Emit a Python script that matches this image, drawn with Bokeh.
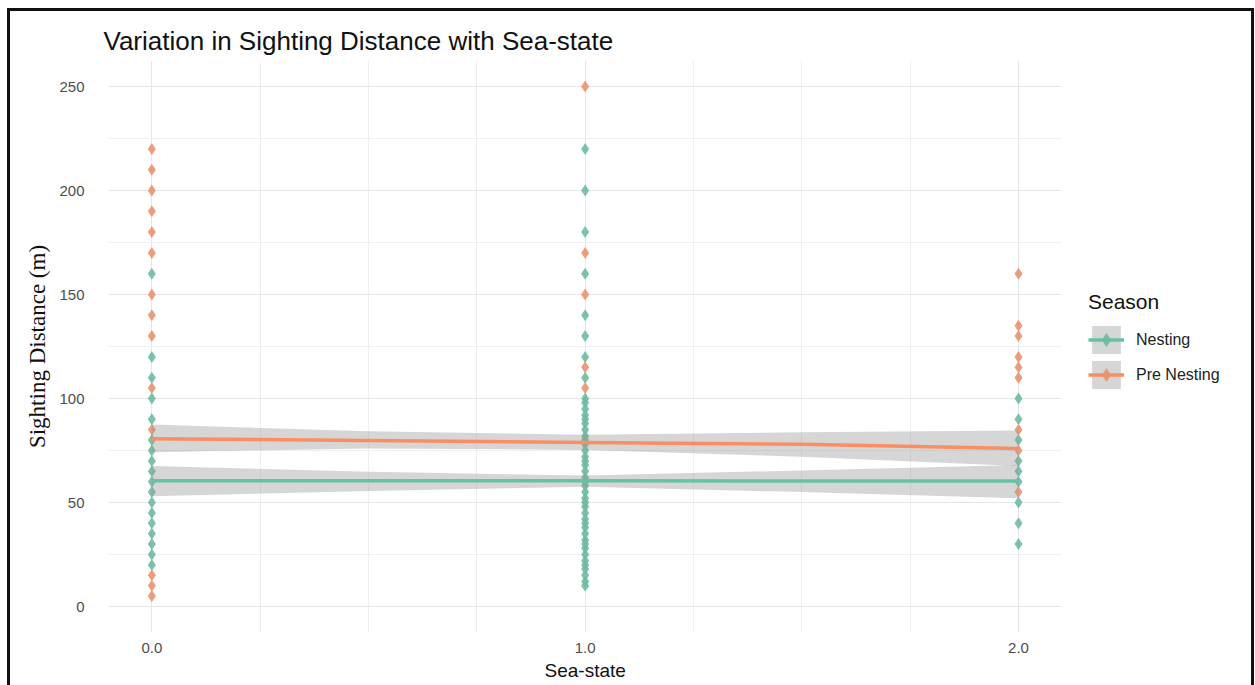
from bokeh.plotting import figure
from bokeh.models import (FixedTicker, SingleIntervalTicker, Legend, LegendItem,
                          ColumnDataSource, InlineStyleSheet, Title)
from bokeh.embed import file_html
from bokeh.resources import INLINE

# ---------------- data ----------------
seasons = ["Nesting", "Pre Nesting"]
colors = ["#66C2A5", "#FC8D62"]

# sighting distances (m) by sea-state
nest_s0 = [160, 120, 110, 100, 90, 80, 75, 70, 65, 60, 55, 50, 45, 40, 35, 30, 25, 20]
nest_s1 = [220, 200, 180, 160, 140, 130, 120, 110, 100, 98, 95, 92, 90, 88, 85, 82, 80,
           78, 75, 72, 70, 68, 65, 62, 60, 58, 55, 52, 50, 48, 45, 42, 40, 38, 35, 32,
           30, 28, 25, 22, 20, 18, 15, 12, 10]
nest_s2 = [100, 90, 80, 70, 65, 60, 50, 40, 30]
pre_s0 = [220, 210, 200, 190, 180, 170, 150, 140, 130, 105, 85, 15, 10, 5]
pre_s1 = [250, 170, 150, 115, 105]
pre_s2 = [160, 135, 130, 120, 115, 110, 85, 75, 55]

# linear fits with confidence band
fit_x = [0.0, 0.5, 1.0, 1.5, 2.0]
nest_fit = [60.5, 60.4, 60.4, 60.3, 60.3]
nest_lo = [53.0, 55.5, 57.6, 55.0, 52.0]
nest_hi = [67.5, 64.8, 63.0, 65.4, 68.0]
pre_fit = [80.7, 79.8, 78.9, 78.0, 76.0]
pre_lo = [74.2, 76.0, 75.3, 72.0, 67.5]
pre_hi = [87.5, 84.3, 82.6, 83.8, 84.6]

x_ticks = [0, 1, 2]
x_tick_labels = ["0.0", "1.0", "2.0"]
x_minor = [0.25, 0.5, 0.75, 1.25, 1.5, 1.75]
panel_x = (-0.1, 2.1)

# ---------------- figure ----------------
# frame extends to the right so that the legend can live inside it
p = figure(width=1255, height=685, output_backend="svg", toolbar_location=None,
           x_range=(-0.1, 2.54), y_range=(-12.5, 262.5),
           min_border_left=108, min_border_right=3, min_border_top=60,
           min_border_bottom=53, background_fill_color="white",
           border_fill_color="white", outline_line_color=None)

p.title.text = "Variation in Sighting Distance with Sea-state"
p.title.text_font = "Liberation Sans"
p.title.text_font_size = "26px"
p.title.text_font_style = "normal"
p.title.text_color = "#111111"
p.title.offset = -5
p.title.standoff = 9

# axes / grids
p.xaxis.ticker = FixedTicker(ticks=x_ticks, minor_ticks=x_minor)
p.xaxis.major_label_overrides = {t: l for t, l in zip(x_ticks, x_tick_labels)}
p.yaxis.ticker = SingleIntervalTicker(interval=50, num_minor_ticks=2)
for g in (p.xgrid, p.ygrid):
    g.grid_line_color = "#e6e6e6"
    g.grid_line_width = 1
    g.minor_grid_line_color = "#efefef"
    g.minor_grid_line_width = 1
try:
    p.ygrid.cross_bounds = panel_x
except Exception:
    p.ygrid.grid_line_color = None
    p.ygrid.minor_grid_line_color = None
    ys_major = [0, 50, 100, 150, 200, 250]
    ys_minor = [25, 75, 125, 175, 225]
    p.segment(x0=[panel_x[0]] * len(ys_major), x1=[panel_x[1]] * len(ys_major),
              y0=ys_major, y1=ys_major, line_color="#e6e6e6", line_width=1)
    p.segment(x0=[panel_x[0]] * len(ys_minor), x1=[panel_x[1]] * len(ys_minor),
              y0=ys_minor, y1=ys_minor, line_color="#efefef", line_width=1)

for ax in (p.xaxis, p.yaxis):
    ax.axis_line_color = None
    ax.major_tick_line_color = None
    ax.minor_tick_line_color = None
    ax.major_label_text_font = "Liberation Sans"
    ax.major_label_text_font_size = "15px"
    ax.major_label_text_color = "#4d4d4d"

p.xaxis.major_label_standoff = 4

# x-axis title, centred under the data panel
xt = Title(text="Sea-state", align="left", offset=436, standoff=4,
           text_font="Liberation Sans", text_font_size="19px",
           text_font_style="normal", text_color="#111111")
p.add_layout(xt, "below")

p.yaxis.axis_label = "Sighting Distance (m)"
p.yaxis.axis_label_text_font = "Liberation Serif"
p.yaxis.axis_label_text_font_size = "23px"
p.yaxis.axis_label_text_font_style = "normal"
p.yaxis.axis_label_text_color = "#111111"
p.yaxis.major_label_standoff = 18
p.yaxis.axis_label_standoff = 6

# points
def pts(vals0, vals1, vals2):
    xs = [0] * len(vals0) + [1] * len(vals1) + [2] * len(vals2)
    ys = list(vals0) + list(vals1) + list(vals2)
    return ColumnDataSource(dict(x=xs, y=ys))

src_n = pts(nest_s0, nest_s1, nest_s2)
src_p = pts(pre_s0, pre_s1, pre_s2)
sc_n = p.scatter("x", "y", source=src_n, marker="diamond", size=12,
                 fill_color="#6dbba0", line_color=None, fill_alpha=0.9)
sc_p = p.scatter("x", "y", source=src_p, marker="diamond", size=12,
                 fill_color="#e9936f", line_color=None, fill_alpha=0.9)

# bands + lines
band_n = p.varea(x=fit_x, y1=nest_lo, y2=nest_hi, fill_color="#999999", fill_alpha=0.4)
band_p = p.varea(x=fit_x, y1=pre_lo, y2=pre_hi, fill_color="#999999", fill_alpha=0.4)
ln_n = p.line(fit_x, nest_fit, line_color=colors[0], line_width=3.5)
ln_p = p.line(fit_x, pre_fit, line_color=colors[1], line_width=3.5)

legend = Legend(items=[
    LegendItem(label=seasons[0], renderers=[band_n, ln_n, sc_n]),
    LegendItem(label=seasons[1], renderers=[band_p, ln_p, sc_p]),
], location=(980, 240))
legend.title = "Season"
legend.title_text_font = "Liberation Sans"
legend.title_text_font_size = "21px"
legend.title_text_font_style = "normal"
legend.title_text_color = "#111111"
legend.title_standoff = 8
legend.label_text_font = "Liberation Sans"
legend.label_text_font_size = "16px"
legend.label_text_color = "#222222"
legend.glyph_width = 36
legend.glyph_height = 35
legend.label_height = 35
legend.spacing = 0
legend.padding = 0
legend.margin = 0
legend.label_standoff = 12
legend.border_line_color = None
legend.background_fill_alpha = 0
p.add_layout(legend, "center")

p.stylesheets = [InlineStyleSheet(css=""":host::after {content: ''; position: absolute;
 left: 7px; top: 8px; width: 1247px; height: 677px; box-sizing: border-box;
 border: 3px solid #111; border-bottom: none; pointer-events: none;}""")]

open("out.html", "w").write(file_html(p, INLINE))
